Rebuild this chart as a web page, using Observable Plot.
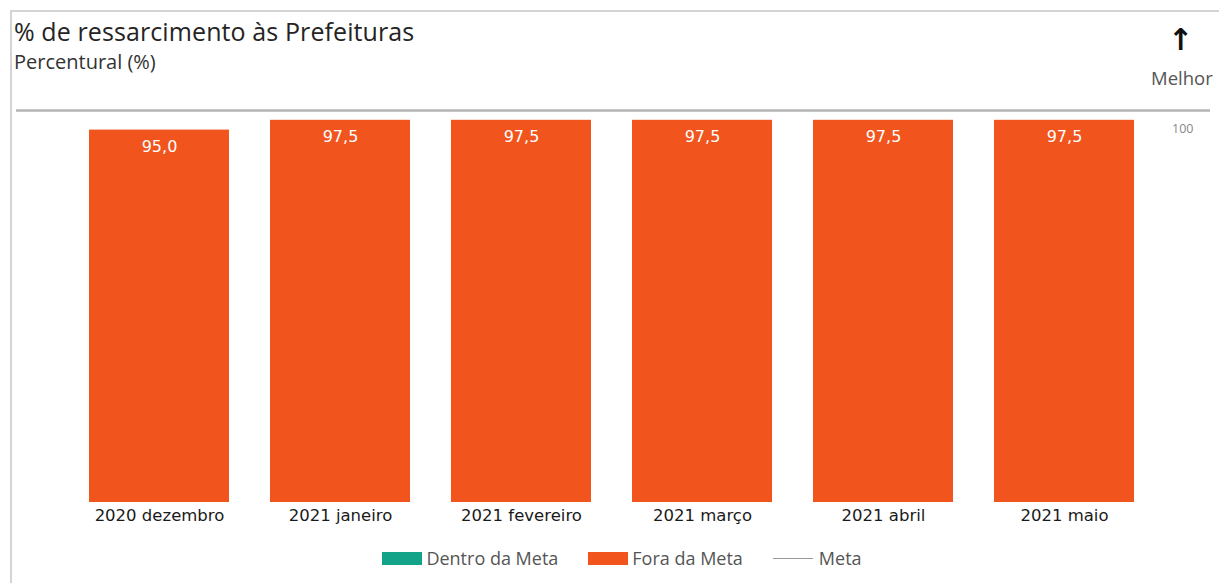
<!DOCTYPE html>
<html>
<head>
<meta charset="utf-8">
<script src="https://cdn.jsdelivr.net/npm/d3@7"></script>
<script src="https://cdn.jsdelivr.net/npm/@observablehq/plot@0.6"></script>
<style>
  html, body { margin: 0; padding: 0; background: #fff; }
  #wrap { position: relative; width: 1219px; height: 583px; overflow: hidden; font-family: "Open Sans", "Noto Sans", sans-serif; }
  #frame { position: absolute; left: 10px; top: 10px; width: 1220px; height: 600px; border-left: 2px solid #d4d4d4; border-top: 2px solid #d4d4d4; }
  #title { position: absolute; left: 14px; top: 14px; font-size: 25px; font-weight: 500; color: #252423; white-space: nowrap; letter-spacing: 0.1px; }
  #subtitle { position: absolute; left: 14px; top: 48px; font-size: 20px; font-weight: 500; color: #333; white-space: nowrap; }
  #arrow { position: absolute; left: 1168px; top: 22px; font-size: 30px; font-weight: bold; color: #111; font-family: "DejaVu Sans", sans-serif; }
  #melhor { position: absolute; left: 1151px; top: 65px; font-size: 18.5px; color: #555; white-space: nowrap; font-weight: 500; }
  #chart { position: absolute; left: 0; top: 100px; }
  #legend { position: absolute; top: 546px; left: 0; width: 1244px; display: flex; justify-content: center; align-items: center; font-size: 18px; color: #555; }
  .item { display: flex; align-items: center; margin: 0 15px; }
  .sw { width: 40px; height: 13px; margin-right: 4px; }
  .ln { width: 40px; height: 0; border-top: 1.5px solid #999; margin-right: 6px; }
</style>
</head>
<body>
<div id="wrap">
  <div id="frame"></div>
  <div id="title"></div>
  <div id="subtitle"></div>
  <div id="arrow">↑</div>
  <div id="melhor">Melhor</div>
  <div id="chart"></div>
  <div id="legend"></div>
</div>
<script>
const months = ["2020 dezembro", "2021 janeiro", "2021 fevereiro", "2021 março", "2021 abril", "2021 maio"];
const values = [95.0, 97.5, 97.5, 97.5, 97.5, 97.5];
const status = ["Fora da Meta", "Fora da Meta", "Fora da Meta", "Fora da Meta", "Fora da Meta", "Fora da Meta"];
const meta = 100;
const legendItems = ["Dentro da Meta", "Fora da Meta", "Meta"];
const titleText = "% de ressarcimento às Prefeituras";
const subtitleText = "Percentural (%)";

const colors = {"Dentro da Meta": "#13a388", "Fora da Meta": "#f1541d"};

document.getElementById("title").textContent = titleText;
document.getElementById("subtitle").textContent = subtitleText;

const data = months.map((m, i) => ({month: m, value: values[i], status: status[i]}));
const fmt = v => v.toFixed(1).replace(".", ",");

const chart = Plot.plot({
  width: 1219,
  height: 440,
  marginTop: 10,
  marginBottom: 38,
  marginLeft: 48,
  marginRight: 44,
  x: {domain: months, padding: 0.2265, label: null, tickSize: 0, tickPadding: 7},
  y: {domain: [0, 100], axis: null},
  style: {fontFamily: "'DejaVu Sans', Verdana, sans-serif", fontSize: "15px", color: "#222"},
  marks: [
    Plot.barY(data, {x: "month", y: "value", fill: d => colors[d.status]}),
    Plot.ruleY([meta], {stroke: "#b4b4b4", strokeWidth: 2.5, insetLeft: -32, insetRight: -35}),
    Plot.text(data, {x: "month", y: "value", text: d => fmt(d.value), fill: "white", dy: 17, fontSize: 16}),
    Plot.text([meta], {y: d => d, frameAnchor: "right", dx: 18, dy: 18, text: d => String(d), fill: "#888", fontSize: 12.5, fontFamily: "'Open Sans', sans-serif"}),
    Plot.axisX({tickSize: 0, tickPadding: 7, fontSize: 16.5, label: null, fontWeight: "normal", fill: "#1a1a1a"})
  ]
});
document.getElementById("chart").appendChild(chart);

const leg = document.getElementById("legend");
legendItems.forEach(name => {
  const it = document.createElement("div");
  it.className = "item";
  const mk = document.createElement("div");
  if (colors[name]) { mk.className = "sw"; mk.style.background = colors[name]; }
  else { mk.className = "ln"; }
  const t = document.createElement("span");
  t.textContent = name;
  it.appendChild(mk); it.appendChild(t);
  leg.appendChild(it);
});
</script>
</body>
</html>
